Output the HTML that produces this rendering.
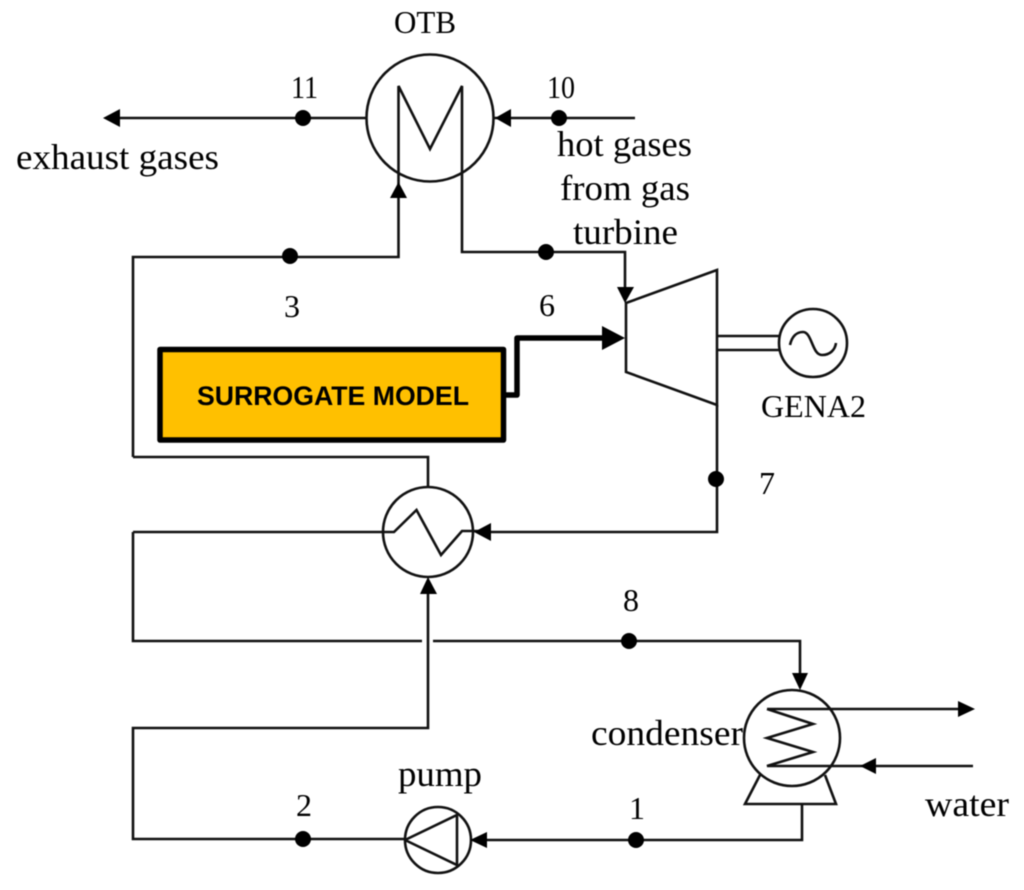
<!DOCTYPE html>
<html><head><meta charset="utf-8"><style>
html,body{margin:0;padding:0;background:#fff;width:1024px;height:890px;overflow:hidden}
svg{display:block;filter:blur(0.4px)}
text{font-family:"Liberation Serif",serif;font-size:36px;fill:#000}
text.n{font-size:32px}
.l{fill:none;stroke:#111;stroke-width:2.6}
</style></head><body>
<svg width="1024" height="890" viewBox="0 0 1024 890" xmlns="http://www.w3.org/2000/svg">
<g class="l">
<circle cx="430" cy="118" r="63.5"/>
<path d="M367 118H116M494 118H635"/>
<path d="M133 457V257H398.500V86L430 149L462 86V252H625V295"/>
<path d="M133 457H428V488"/>
<circle cx="428" cy="532" r="45"/>
<path d="M133 532H394L416.500 510L441 555L462 531H490M490 532H717V405"/>
<path d="M133 532V641H422M433 641H800V680"/>
<path d="M428 590V728H133V839H405"/>
<circle cx="438" cy="840" r="33"/>
<path d="M405 840L457 815V865L405 840"/>
<path d="M480 840H802V804"/>
<circle cx="792" cy="738" r="48"/>
<path d="M767 709H965M767 709L813 724L767 738L813 752L767 766H973"/>
<path d="M760 775L745 804H836L825 775"/>
<path d="M626 303L717 270V405L626 372Z"/>
<path d="M717 336H779M717 350H779"/>
<circle cx="813" cy="343" r="34"/>
<path d="M790 345C792 336 797 332 803 332C812 332 812 355 822 355C830 355 835 350 836 343"/>
</g>
<g fill="#000">
<path d="M103 118L120 109V127Z"/>
<path d="M495 118L511 109V127Z"/>
<path d="M398.500 182L390 198H407Z"/>
<path d="M625 303L617 287H634Z"/>
<path d="M474 532L491 523V541Z"/>
<path d="M428 577L420 594H437Z"/>
<path d="M800 690L792 673H808Z"/>
<path d="M975 709L958 701V717Z"/>
<path d="M860 766L876 758V774Z"/>
<path d="M470 840L487 832V848Z"/>
<circle cx="303" cy="118" r="8"/>
<circle cx="559" cy="118" r="8"/>
<circle cx="290" cy="256" r="8"/>
<circle cx="546" cy="252" r="8"/>
<circle cx="716" cy="479" r="8"/>
<circle cx="629" cy="641" r="8"/>
<circle cx="636" cy="840" r="8"/>
<circle cx="303" cy="839" r="8"/>
<path d="M625 338L602 326V350Z"/>
</g>
<rect x="160" y="349.500" width="343.500" height="90.500" fill="#ffc000" stroke="#000" stroke-width="5.500" stroke-linejoin="round"/>
<path d="M505 395H517V338H606" fill="none" stroke="#000" stroke-width="5.500" stroke-linejoin="round"/>
<text x="197" y="405" style="font-family:'Liberation Sans',sans-serif;font-size:27px;font-weight:bold" textLength="272" lengthAdjust="spacingAndGlyphs">SURROGATE MODEL</text>
<text class="n" x="394" y="33" textLength="62" lengthAdjust="spacingAndGlyphs">OTB</text>
<text class="n" x="291" y="98" textLength="27" lengthAdjust="spacingAndGlyphs">11</text>
<text class="n" x="547" y="98" textLength="28" lengthAdjust="spacingAndGlyphs">10</text>
<text x="16" y="169" textLength="203" lengthAdjust="spacingAndGlyphs">exhaust gases</text>
<text x="557" y="156" textLength="135" lengthAdjust="spacingAndGlyphs">hot gases</text>
<text x="560" y="200" textLength="130" lengthAdjust="spacingAndGlyphs">from gas</text>
<text x="573" y="244" textLength="105" lengthAdjust="spacingAndGlyphs">turbine</text>
<text class="n" x="284" y="317">3</text>
<text class="n" x="539" y="316">6</text>
<text class="n" x="761" y="417" textLength="105" lengthAdjust="spacingAndGlyphs">GENA2</text>
<text class="n" x="759" y="494">7</text>
<text class="n" x="623" y="611">8</text>
<text x="591" y="745" textLength="152" lengthAdjust="spacingAndGlyphs">condenser</text>
<text x="398" y="786" textLength="84" lengthAdjust="spacingAndGlyphs">pump</text>
<text class="n" x="296" y="816">2</text>
<text class="n" x="629" y="819">1</text>
<text x="925" y="816" textLength="84" lengthAdjust="spacingAndGlyphs">water</text>
</svg>
</body></html>
